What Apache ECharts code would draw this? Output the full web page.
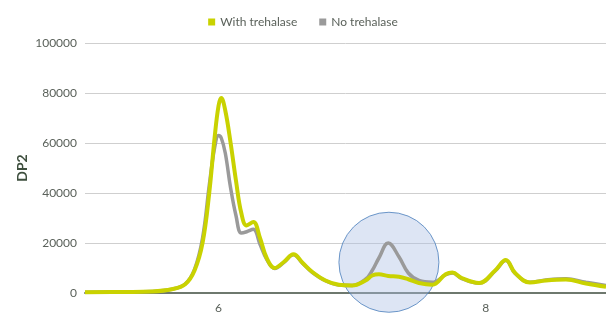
<!DOCTYPE html>
<html>
  <head>
    <meta charset="utf-8" />
    <script src="https://cdn.jsdelivr.net/npm/echarts@6.0.0/dist/echarts.min.js"></script>
    <style>body{margin:0;background:#fff;}</style>
  </head>
  <body>
    <div id="main" style="width: 606px;height:314px;"></div>
    <script type="text/javascript">
      var myChart = echarts.init(document.getElementById('main'));

      // x positions (retention) shared by both traces
      const xs = [5.0, 5.3, 5.5, 5.65, 5.75, 5.82, 5.88, 5.93, 5.97, 6.0, 6.02, 6.05, 6.09, 6.13, 6.17, 6.21,
        6.26, 6.31, 6.36, 6.42, 6.49, 6.56, 6.63, 6.7, 6.8, 6.9, 7.0, 7.1, 7.15, 7.2, 7.27, 7.35, 7.42,
        7.5, 7.6, 7.7, 7.75, 7.82, 7.95, 8.07, 8.15, 8.22, 8.33, 8.45, 8.6, 8.75, 8.9];
      const withTrehalase = [300, 400, 600, 1500, 3500, 9000, 20000, 40000, 62000, 75000, 78000, 73000, 60000, 45000, 32000, 27000,
        28400, 22000, 14000, 10000, 12500, 15500, 12000, 8500, 5000, 3300, 3000, 5000, 7000, 7500, 6800, 6500, 5500,
        4000, 3300, 7500, 8200, 6000, 4000, 9000, 13200, 8000, 4200, 5000, 5400, 3800, 2500];
      const noTrehalase = [300, 400, 600, 1500, 3600, 9500, 22000, 43000, 58000, 63000, 62000, 56000, 42000, 31000, 24000, 24500,
        25500, 19500, 13500, 9800, 12300, 15300, 11800, 8300, 4900, 3200, 3000, 5500, 9000, 14000, 20000, 14500, 8000,
        5000, 4300, 7300, 8000, 5800, 3900, 8800, 13000, 7800, 4300, 5200, 5700, 4300, 3000];
      const xTickLabels = [6, 8];
      const highlight = [[7.275, 12300]];

      const yellow = '#c9d200';
      const grey = '#9a9a9a';

      option = {
        animation: false,
        textStyle: { fontFamily: 'Lato' },
        legend: {
          top: 11,
          left: 'center',
          itemWidth: 7,
          itemHeight: 7,
          itemGap: 22,
          icon: 'rect',
          textStyle: { color: '#5a615a', fontSize: 12, fontFamily: 'Lato' },
          data: ['With trehalase', 'No trehalase']
        },
        grid: { left: 85, right: 0, top: 43, bottom: 21 },
        xAxis: {
          type: 'value',
          min: 5,
          max: 8.9,
          interval: 1,
          splitLine: { show: false },
          axisTick: { show: false },
          axisLine: { lineStyle: { color: '#6e786e', width: 2 } },
          axisLabel: {
            customValues: xTickLabels,
            color: '#5a615a',
            fontSize: 12,
            margin: 9
          }
        },
        yAxis: {
          type: 'value',
          min: 0,
          max: 100000,
          interval: 20000,
          name: 'DP2',
          nameLocation: 'middle',
          nameGap: 56,
          nameMoveOverlap: false,
          nameTextStyle: { color: '#3e4f3e', fontWeight: 'bold', fontSize: 14, fontFamily: 'Lato' },
          axisLine: { show: false },
          axisTick: { show: false },
          splitLine: { lineStyle: { color: '#cfcfcf', width: 1 } },
          axisLabel: { color: '#5a615a', fontSize: 12, margin: 8, formatter: v => String(v) }
        },
        series: [
          { name: 'No trehalase',
            type: 'line',
            data: xs.map((x, i) => [x, noTrehalase[i]]),
            smooth: 0.4,
            showSymbol: false,
            itemStyle: { color: grey },
            lineStyle: { color: grey, width: 3.5 }
          },
          { name: 'With trehalase',
            type: 'line',
            data: xs.map((x, i) => [x, withTrehalase[i]]),
            smooth: 0.4,
            showSymbol: false,
            itemStyle: { color: yellow },
            lineStyle: { color: yellow, width: 4 }
          },
          { name: 'highlight',
            type: 'scatter',
            data: highlight,
            symbolSize: 100,
            clip: false,
            silent: true,
            itemStyle: {
              color: 'rgba(170,190,228,0.5)',
              borderColor: '#4a7ebb',
              borderWidth: 1
            }
          }
        ]
      };

      myChart.setOption(option);
    </script>
  </body>
</html>
